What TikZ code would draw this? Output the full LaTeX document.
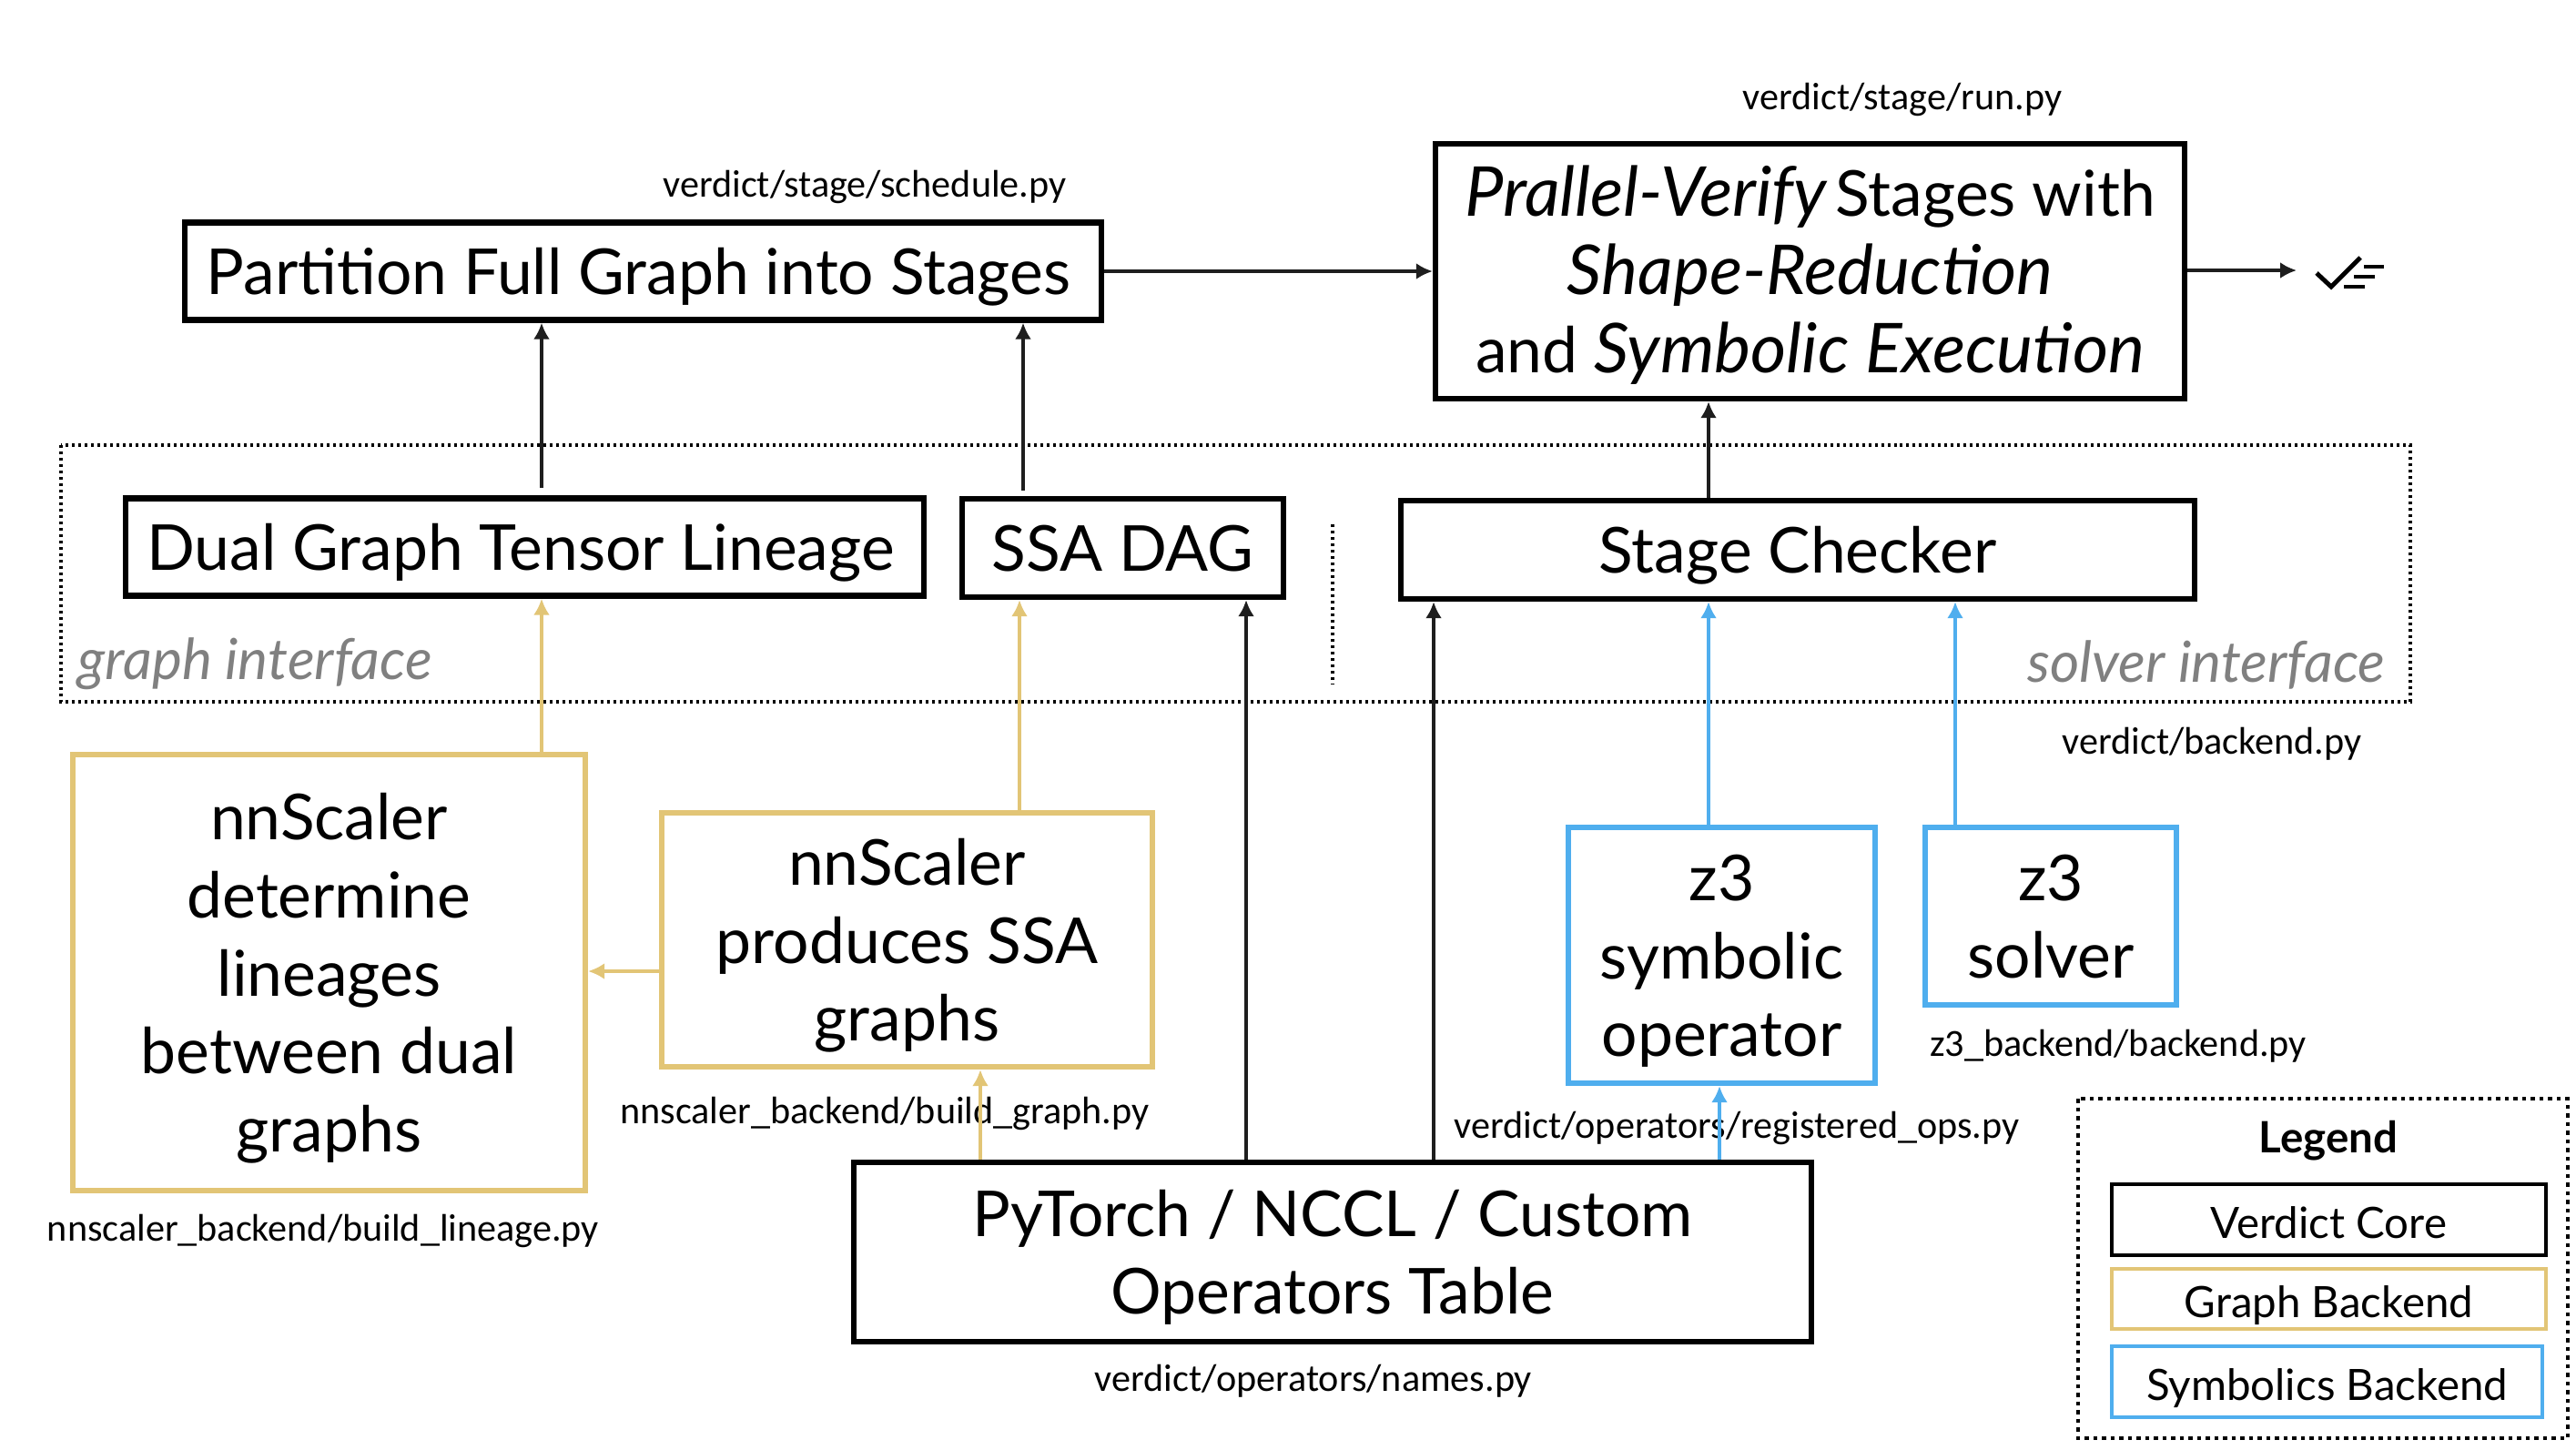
\documentclass[tikz,border=0pt]{standalone}
\usepackage{fontspec}
\setmainfont{Lato}
\newfontfamily\pathfont{Carlito}
\usetikzlibrary{arrows.meta}
\definecolor{graphgold}{HTML}{E2C576}
\definecolor{symblue}{HTML}{4FAEEE}
\definecolor{arrowblack}{HTML}{1E1E1E}
\newcommand{\verifyword}[1]{{\fontsize{21.5}{24.4}\selectfont\itshape #1}}
\newcommand{\boxstrut}{\rule[-0.15cm]{0pt}{0.81cm}}
\tikzset{
  corebox/.style={draw=black, line width=1.8pt, align=center, inner sep=0pt,
    font=\fontsize{19.8}{24.4}\selectfont},
  singlebox/.style={corebox, text height=0.66cm, text depth=0.15cm},
  goldbox/.style={corebox, draw=graphgold},
  bluebox/.style={corebox, draw=symblue},
  legendbox/.style={draw=black, line width=1.3pt, inner sep=0pt, minimum width=4.77cm,
    text height=0.50cm, text depth=0.10cm, font=\fontsize{13.5}{17}\selectfont},
  pathlabel/.style={inner sep=0pt, font=\pathfont\fontsize{12}{14}\selectfont},
  iflabel/.style={inner sep=0pt, text=black!50, font=\fontsize{17.7}{20}\selectfont\itshape},
  dotbox/.style={draw=black, line width=1.05pt, dash pattern=on 0.03cm off 0.04cm},
  corearrow/.style={-{Latex[length=0.18cm, width=0.18cm]}, draw=arrowblack, line width=1pt},
  goldarrow/.style={corearrow, draw=graphgold},
  bluearrow/.style={corearrow, draw=symblue}
}
\begin{document}
\begin{tikzpicture}
  \useasboundingbox (0,0) rectangle (28.30,-15.92);

  % Dotted interface band
  \draw[dotbox] (0.67,-4.89) rectangle (26.48,-7.71);
  \draw[dotbox] (14.64,-5.76) -- (14.64,-7.51);
  \node[iflabel, anchor=west] (graphif) at (0.85,-7.295) {graph interface};
  \node[iflabel, anchor=east] (solverif) at (26.21,-7.305) {solver interface};

  % Verdict core boxes
  \node[singlebox, minimum width=10.07cm, minimum height=1.07cm] (partition) at (7.065,-2.98) {Partition Full Graph into Stages\hspace*{0.10cm}};
  \node[corebox, minimum width=8.23cm, minimum height=2.80cm] (verify) at (19.885,-2.98)
    {\boxstrut\verifyword{Prallel-Verify}\hspace{-0.08cm} Stages with\\\verifyword{Shape-Reduction}\\\boxstrut and \verifyword{Symbolic Execution}};
  \node[singlebox, minimum width=8.77cm, minimum height=1.07cm] (lineage) at (5.765,-6.01) {Dual Graph Tensor Lineage\hspace*{0.09cm}};
  \node[singlebox, minimum width=3.53cm, minimum height=1.08cm] (ssadag) at (12.335,-6.02) {SSA DAG};
  \node[singlebox, minimum width=8.72cm, minimum height=1.08cm] (checker) at (19.75,-6.04) {Stage Checker};
  \node[corebox, minimum width=10.52cm, minimum height=1.97cm] (optable) at (14.64,-13.755) {\boxstrut PyTorch / NCCL / Custom\\\boxstrut Operators Table};

  % Graph backend boxes
  \node[goldbox, minimum width=5.63cm, minimum height=4.79cm] (nnlineage) at (3.615,-10.685)
    {\boxstrut nnScaler\\determine\\lineages\\between dual\\\boxstrut graphs};
  \node[goldbox, minimum width=5.39cm, minimum height=2.79cm] (nnssa) at (9.965,-10.325) {\boxstrut nnScaler\\produces SSA\\\boxstrut graphs};

  % Symbolics backend boxes
  \node[bluebox, minimum width=3.37cm, minimum height=2.81cm] (z3op) at (18.915,-10.495) {\boxstrut z3\\symbolic\\\boxstrut operator};
  \node[bluebox, minimum width=2.76cm, minimum height=1.95cm] (z3solver) at (22.53,-10.065) {\boxstrut z3\\\boxstrut solver};

  % File paths
  \node[pathlabel] (schedpath) at (9.50,-2.055) {verdict/stage/schedule.py};
  \node[pathlabel] (runpath) at (20.90,-1.095) {verdict/stage/run.py};
  \node[pathlabel] (backpath) at (24.30,-8.175) {verdict/backend.py};
  \node[pathlabel] (graphpath) at (9.72,-12.235) {nnscaler\_backend/build\_graph.py};
  \node[pathlabel] (linpath) at (3.55,-13.525) {nnscaler\_backend/build\_lineage.py};
  \node[pathlabel] (z3path) at (23.27,-11.495) {z3\_backend/backend.py};
  \node[pathlabel] (regpath) at (19.08,-12.395) {verdict/operators/registered\_ops.py};
  \node[pathlabel] (namepath) at (14.43,-15.175) {verdict/operators/names.py};

  % Arrow columns
  \coordinate (colA) at (5.95,0);
  \coordinate (colB) at (11.24,0);
  \coordinate (colC) at (11.20,0);
  \coordinate (colD) at (10.77,0);
  \coordinate (colE) at (13.69,0);
  \coordinate (colF) at (15.75,0);
  \coordinate (colG) at (18.77,0);
  \coordinate (colH) at (18.89,0);
  \coordinate (colI) at (21.48,0);
  \coordinate (rowA) at (0,-10.67);
  \coordinate (done) at (25.23,-2.97);

  % Black arrows
  \draw[corearrow] ([yshift=0.08cm]lineage.north -| colA) -- (partition.south -| colA);
  \draw[corearrow] ([yshift=0.06cm]ssadag.north -| colB) -- (partition.south -| colB);
  \draw[corearrow] (partition.east) -- (partition.east -| verify.west);
  \draw[corearrow] (checker.north -| colG) -- (verify.south -| colG);
  \draw[corearrow] (verify.east |- done) -- (done);
  \draw[corearrow] (optable.north -| colE) -- (ssadag.south -| colE);
  \draw[corearrow] (optable.north -| colF) -- (checker.south -| colF);

  % Gold arrows
  \draw[goldarrow] (nnlineage.north -| colA) -- (lineage.south -| colA);
  \draw[goldarrow] (nnssa.north -| colC) -- (ssadag.south -| colC);
  \draw[goldarrow] (nnssa.west |- rowA) -- (nnlineage.east |- rowA);
  \draw[goldarrow] (optable.north -| colD) -- (nnssa.south -| colD);

  % Blue arrows
  \draw[bluearrow] (z3op.north -| colG) -- (checker.south -| colG);
  \draw[bluearrow] (z3solver.north -| colI) -- (checker.south -| colI);
  \draw[bluearrow] (optable.north -| colH) -- (z3op.south -| colH);

  % Check mark
  \draw[line width=1.4pt] (25.45,-3.00) -- (25.61,-3.15) -- (25.93,-2.83);
  \draw[line width=1.4pt] (25.97,-2.93) -- (26.19,-2.93);
  \draw[line width=1.4pt] (25.86,-3.04) -- (26.09,-3.04);
  \draw[line width=1.4pt] (25.75,-3.15) -- (25.98,-3.15);

  % Legend
  \draw[dotbox, line width=1.35pt, dash pattern=on 0.045cm off 0.05cm] (22.83,-12.07) rectangle (28.21,-15.80);
  \node[inner sep=0pt, font=\fontsize{13.5}{17}\selectfont\bfseries] (legendtitle) at (25.58,-12.53) {Legend};
  \node[legendbox, minimum height=0.78cm] (legcore) at (25.585,-13.40) {Verdict Core};
  \node[legendbox, draw=graphgold, minimum height=0.66cm] (leggraph) at (25.585,-14.27) {Graph Backend};
  \node[legendbox, draw=symblue, minimum width=4.73cm, minimum height=0.78cm] (legsym) at (25.565,-15.18) {Symbolics Backend};
\end{tikzpicture}
\end{document}
